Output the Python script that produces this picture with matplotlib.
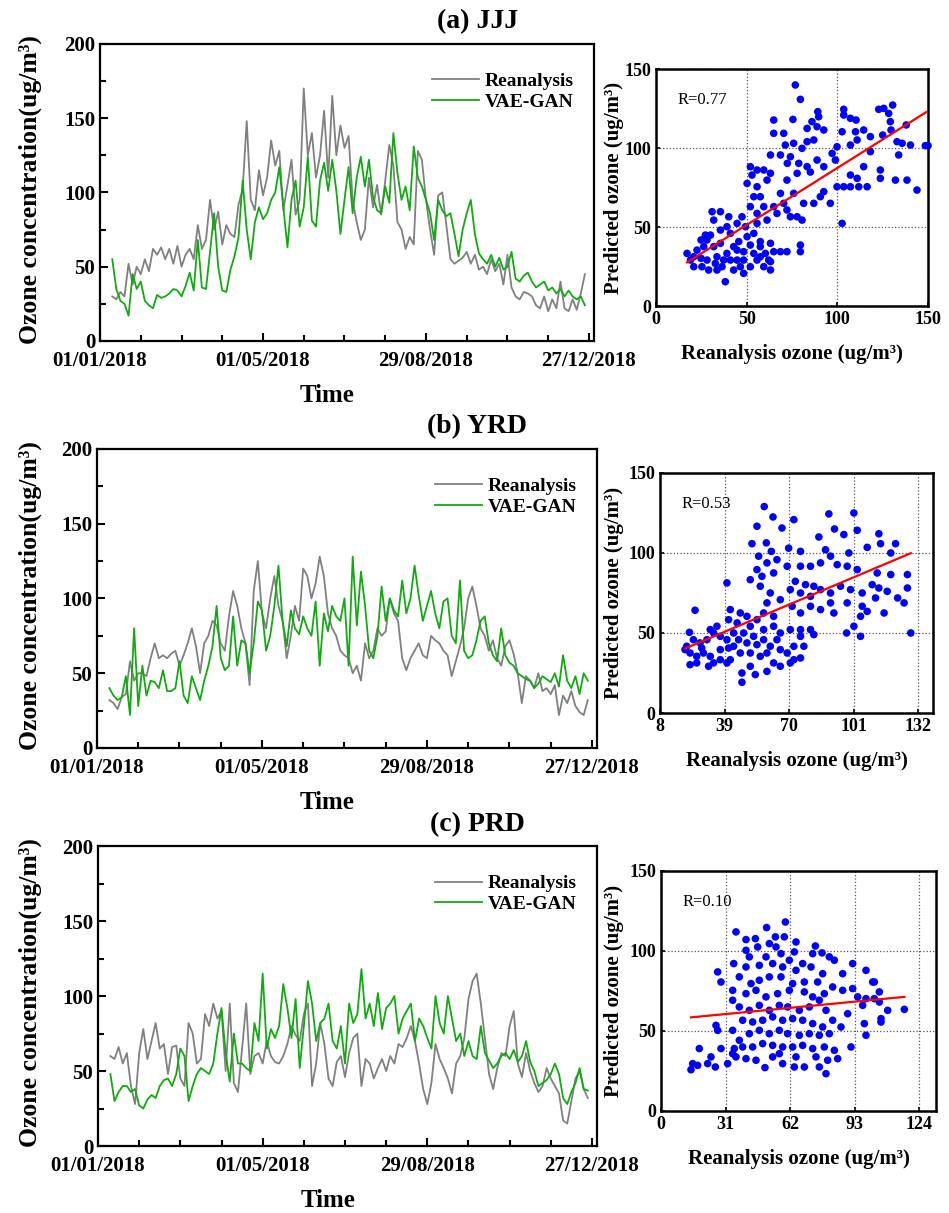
import numpy as np
import matplotlib
matplotlib.use("Agg")
import matplotlib.pyplot as plt
from matplotlib.ticker import MultipleLocator

plt.rcParams['font.family'] = ['Liberation Serif', 'DejaVu Serif']
plt.rcParams['font.weight'] = 'bold'

# ---- time series: day of year (every 3rd day) ----
days = np.arange(9, 360, 3)
date_ticks = [0, 120, 240, 360]
date_labels = ['01/01/2018', '01/05/2018', '29/08/2018', '27/12/2018']

jjj_rea = [30, 28, 33, 30, 52, 38, 50, 45, 55, 47,
           62, 58, 63, 55, 62, 52, 64, 50, 58, 62,
           55, 78, 62, 68, 95, 75, 87, 65, 78, 72,
           70, 92, 102, 148, 95, 88, 115, 98, 110, 135,
           118, 128, 88, 105, 122, 85, 95, 170, 125, 140,
           110, 125, 155, 110, 165, 125, 145, 130, 138, 95,
           80, 68, 75, 110, 90, 105, 85, 108, 132, 118,
           80, 75, 62, 70, 65, 128, 122, 95, 75, 58,
           98, 100, 78, 55, 52, 54, 56, 60, 52, 58,
           48, 50, 45, 55, 47, 52, 38, 58, 36, 30,
           28, 33, 32, 30, 24, 22, 30, 20, 28, 22,
           40, 22, 20, 28, 21, 32, 45]
jjj_vae = [55, 35, 27, 25, 17, 45, 35, 40, 27, 24,
           22, 31, 29, 30, 32, 35, 34, 30, 37, 46,
           34, 68, 36, 35, 60, 86, 50, 34, 33, 48,
           57, 70, 108, 75, 55, 80, 90, 82, 86, 95,
           100, 117, 90, 63, 95, 108, 77, 90, 124, 81,
           77, 108, 120, 101, 122, 101, 72, 95, 117, 86,
           110, 124, 104, 122, 97, 88, 86, 104, 93, 140,
           113, 95, 104, 88, 131, 110, 104, 95, 86, 68,
           95, 88, 84, 86, 72, 57, 75, 86, 95, 72,
           59, 55, 52, 58, 50, 56, 48, 50, 60, 42,
           40, 44, 46, 40, 36, 38, 40, 34, 36, 32,
           35, 30, 34, 30, 28, 30, 24]

yrd_rea = [32, 30, 26, 34, 36, 58, 45, 50, 50, 48,
           60, 70, 60, 62, 60, 63, 65, 55, 62, 70,
           80, 68, 50, 70, 75, 85, 82, 70, 65, 88,
           105, 95, 80, 70, 42, 105, 125, 90, 80, 100,
           115, 95, 85, 60, 75, 95, 85, 120, 115, 100,
           110, 128, 115, 90, 80, 75, 65, 62, 60, 50,
           55, 45, 70, 60, 65, 80, 75, 78, 100, 90,
           85, 60, 52, 60, 65, 70, 62, 60, 75, 72,
           70, 65, 62, 48, 58, 68, 80, 100, 108, 95,
           80, 75, 65, 72, 60, 55, 68, 72, 63, 50,
           30, 48, 45, 40, 50, 38, 40, 36, 42, 22,
           35, 30, 38, 28, 24, 22, 32]
yrd_vae = [40, 35, 32, 34, 48, 22, 80, 28, 55, 35,
           45, 44, 40, 52, 38, 38, 40, 58, 35, 30,
           48, 40, 32, 45, 55, 68, 95, 60, 52, 55,
           88, 55, 72, 70, 50, 70, 98, 92, 65, 75,
           95, 122, 85, 68, 92, 80, 76, 88, 80, 75,
           98, 55, 90, 78, 95, 88, 85, 100, 55, 128,
           82, 118, 95, 65, 60, 75, 108, 85, 100, 92,
           88, 112, 90, 100, 122, 102, 85, 95, 105, 90,
           80, 98, 100, 75, 70, 112, 65, 60, 62, 72,
           85, 88, 70, 62, 58, 80, 62, 57, 55, 50,
           48, 46, 45, 40, 43, 48, 46, 44, 50, 41,
           62, 45, 40, 48, 36, 50, 45]

prd_rea = [60, 58, 66, 55, 62, 40, 28, 62, 78, 58,
           70, 82, 65, 68, 48, 66, 67, 45, 40, 82,
           75, 55, 58, 88, 80, 95, 85, 90, 50, 95,
           42, 36, 65, 95, 48, 60, 62, 55, 70, 60,
           56, 55, 60, 68, 80, 74, 70, 88, 95, 40,
           55, 82, 68, 45, 40, 56, 60, 46, 62, 72,
           75, 40, 58, 55, 45, 52, 58, 50, 60, 55,
           68, 66, 72, 80, 70, 55, 38, 28, 42, 68,
           58, 52, 45, 35, 55, 60, 72, 98, 110, 115,
           95, 72, 48, 38, 52, 62, 60, 80, 90, 55,
           46, 62, 50, 42, 36, 40, 52, 45, 40, 35,
           17, 15, 30, 45, 50, 38, 32]
prd_vae = [48, 30, 36, 40, 40, 36, 38, 27, 25, 31,
           34, 32, 40, 44, 45, 40, 48, 65, 60, 30,
           40, 48, 52, 50, 48, 55, 75, 92, 62, 43,
           75, 55, 55, 52, 50, 82, 70, 115, 65, 78,
           72, 80, 108, 92, 72, 98, 52, 80, 110, 95,
           70, 82, 85, 95, 70, 65, 80, 55, 95, 82,
           88, 118, 85, 95, 80, 102, 78, 92, 95, 100,
           75, 85, 90, 95, 70, 85, 80, 72, 65, 100,
           82, 75, 100, 85, 70, 75, 60, 70, 60, 58,
           80, 62, 57, 52, 55, 60, 62, 58, 64, 56,
           60, 70, 56, 50, 40, 42, 44, 48, 55, 48,
           32, 28, 36, 42, 52, 38, 37]

# ---- scatter: reanalysis vs predicted ----
jjj_sx = [76.8, 79.6, 64.9, 75.5, 89.2, 89.7, 86, 88.8, 103.5, 107.2, 110.3, 103.5, 122.8, 125.6, 130.5,
          128.3, 129.2, 138, 148.5, 125, 129.6, 132.9, 135.7, 140.3, 114.5, 110, 118.2, 110.9, 102.6, 99.8,
          107.2, 97.1, 92.5, 83.3, 80.5, 83.3, 87, 75.9, 74.1, 70.4, 71.3, 64.9, 68.6, 63.1, 72.4,
          78.7, 83.3, 88.8, 92.5, 98.9, 85.1, 77.8, 72.2, 63.1, 59.4, 55.7, 52, 52.9, 50.2, 55.7,
          61.2, 57.5, 53.9, 52, 59.4, 64.9, 70.4, 75.9, 68.6, 72.2, 77.8, 80.5, 74.1, 66.7, 61.2,
          55.7, 81.4, 87, 90.6, 92.5, 96.1, 99.8, 103.5, 107.2, 111.8, 116.4, 110.9, 107.2, 114.5, 123.7,
          132, 123.7, 102.6, 138.4, 143.9, 133.8, 118.2, 150,
          17.1, 19, 22.6, 24.8, 26.3, 28.1, 30, 31.8, 33.6, 35.5, 37.3, 39.1, 33.6, 38.2, 29,
          25.3, 30.9, 35.5, 40.1, 31.8, 41, 42.8, 44.7, 46.5, 47.4, 44.7, 49.3, 50.2, 52, 53.9,
          55.7, 57.5, 60.3, 62.1, 63.1, 59.4, 52, 48.3, 44.7, 48.3, 41, 42.8, 20.8, 28.1, 32.7,
          36.4, 20.8, 24.8, 27.2, 35.5, 39.1, 45.6, 57.5, 64.9, 63.1, 57.5, 53.9, 55.7, 72.2, 79.6,
          79.6, 68.6, 48.3, 63.1]
jjj_sy = [139.9, 130.8, 117.7, 118.1, 123, 119.8, 116.7, 113.5, 124.5, 118.8, 117.7, 120.9, 124.5, 125.1, 127.2,
          121.9, 116.7, 114.6, 101.5, 108.2, 111.4, 104, 103, 101.9, 111.4, 110.3, 107.2, 105.1, 110.3, 100.8,
          101.9, 96.6, 111.4, 112.4, 99.8, 104, 105.1, 103, 94.5, 109.3, 101.9, 109.3, 95.6, 95.6, 90.3,
          90.3, 88.2, 92.4, 88.2, 92.4, 84.8, 84, 79.7, 84, 86.1, 86.1, 88.2, 82.9, 77.6, 75.5,
          79.7, 69.2, 69.2, 62.9, 62.9, 62.9, 65, 71.3, 71.3, 60.8, 56.5, 54.4, 56.5, 58.6, 54.4,
          58.6, 65, 65, 69.2, 72.4, 65, 75.5, 75.5, 75.5, 75.5, 75.5, 80.8, 82.9, 88.2, 86.1,
          79.7, 80.8, 52.3, 79.7, 73.4, 95.6, 97.7, 101.5,
          33.3, 29.1, 35.4, 30.2, 37.6, 41.8, 44.9, 37.6, 31.2, 39.7, 29.1, 33.3, 22.8, 15.4, 22.8,
          24.9, 59.7, 59.7, 56.5, 54.4, 46, 37.6, 29.1, 24.9, 56.5, 52.3, 50.2, 43.9, 38.6, 33.3,
          29.1, 37.6, 33.3, 29.1, 22.8, 24.9, 24.9, 29.1, 35.4, 34.4, 29.1, 22.8, 24.9, 29.1, 27,
          24.9, 31.2, 41.8, 44.9, 48.1, 50.2, 40.8, 31.2, 34.4, 39.7, 40.8, 46, 52.3, 34.4, 34.4,
          38.6, 34.4, 20.7, 28.1]
jjj_fit = (0.721, 15.3)
jjj_r = 'R=0.77'

yrd_sx = [58, 62.2, 101, 89, 72.2, 66.5, 54.5, 91.7, 102.6, 84.2, 113, 121, 113.8, 107.4, 96.2,
          52.1, 59, 61.4, 69.7, 75.4, 87.4, 89.8, 98.6, 118.7, 55.3, 64.1, 59.3, 54.5, 51.3, 56.9,
          62.5, 69, 75.4, 80.2, 85, 93, 97.8, 102.6, 112.2, 118.7, 126.7, 40.1, 72.9, 77.8, 81.8,
          70.5, 75.4, 80.2, 85, 89.8, 94.6, 99.4, 105, 109.8, 113, 117, 126.7, 122, 111.4, 105,
          107.4, 115.5, 125.1, 97.8, 91.4, 89.8, 85, 80.2, 75.4, 71.4, 65.7, 60.9, 56.1, 59.3, 62.5,
          57.7, 54.5, 49.7, 46.5, 41.7, 40.9, 45, 51.3, 48.1, 52.9, 57.7, 62.5, 65.7, 70.5, 75.4,
          80.2, 75.4, 81.8, 72.2, 77, 72.2, 75.4, 97.5, 104.2, 128.3, 104.2, 101, 64.1, 60.9, 65.7,
          69, 59.3, 56.1, 62.5, 65.7, 59.3, 53.7, 47.3, 47.3, 51.3, 46.5, 43.3, 40.1, 36.9, 33.7,
          32.1, 35.3, 30.5, 27.2, 24, 20.8, 22.4, 25.6, 28.8, 32.1, 33.7, 31.3, 25.6, 22.4, 22.1,
          24.8, 36.9, 40.9, 40.1, 41.7, 36.9, 20, 28, 43.3, 45.7, 49.7, 54.5, 57.7, 51.3, 70.5]
yrd_sy = [129, 122.5, 125, 124.4, 120.8, 115.6, 116.7, 115, 114.2, 110, 112, 105.8, 105.8, 103.5, 111.5,
          105.8, 106.3, 101, 103, 101, 102, 98, 100, 100, 98, 95.8, 93.8, 89.6, 83.3, 85.4,
          87.5, 91.7, 91.7, 91.7, 93.8, 92.7, 91.7, 89.6, 87.5, 86.5, 86.5, 81.3, 82.3, 80.2, 79.2,
          77.1, 75, 72.9, 77.1, 75, 79.2, 77.1, 75, 80.2, 78.1, 76, 78.1, 71.9, 71.9, 66.7,
          63.5, 62.5, 68.8, 68.8, 62.5, 68.8, 64.6, 66.7, 62.5, 66.7, 70.8, 75, 79.2, 68.8, 60.4,
          62.5, 58.3, 60.4, 62.5, 64.6, 58.3, 56.3, 54.2, 50, 47.9, 52.1, 54.2, 50, 52.1, 52.1,
          52.1, 47.9, 49, 41.7, 41.7, 33.3, 34.4, 50, 47.9, 50, 60.4, 54.2, 45.8, 41.7, 39.6,
          37.5, 37.5, 35.4, 31.3, 29.2, 26, 24, 25, 19.2, 37.5, 37.5, 41.7, 45.8, 47.9, 50,
          52.1, 54.2, 45.8, 43.8, 45.8, 41.7, 37.5, 35.4, 37.5, 35.4, 31.3, 29.2, 31.3, 30.2, 50.4,
          64.2, 39.6, 40.6, 31.3, 33.3, 33.3, 39.6, 40.6, 50, 45.8, 43.8, 42.7, 45.8, 29.2, 31.3]
yrd_fit = (0.55, 29.3)
yrd_r = 'R=0.53'

prd_sx = [59.7, 50.7, 36, 40.8, 45.3, 54.9, 59.2, 46.4, 40.8, 52, 55.2, 57.6, 64.8, 64, 74.1,
          77.3, 72.8, 80.8, 83.2, 92, 98.4, 102.4, 87.2, 77.6, 68, 61.6, 50.4, 42.4, 34.9, 40.8,
          47.2, 53.6, 58.4, 64.8, 72, 75.2, 68.8, 63.2, 57.6, 52, 47.2, 43.2, 37.6, 28.8, 27.2,
          34.4, 40.8, 45.6, 50.4, 56, 61.6, 68.8, 72.8, 78.4, 82.4, 87.2, 92, 101.6, 94.4, 96.8,
          98.4, 104.8, 108.8, 105.6, 97.6, 98.4, 91.2, 86.4, 82.4, 79.2, 76, 71.2, 66.4, 60.8, 56.8,
          52, 47.2, 42.4, 37.6, 34.4, 39.2, 44, 48.8, 53.6, 58.4, 63.2, 68, 72.8, 77.6, 80.8,
          76, 71.2, 66.4, 60.8, 56.8, 52, 47.2, 42.4, 37.6, 34.4, 27.2, 26.4, 28.8, 35.2, 39.2,
          44, 48.8, 53.6, 58.4, 63.2, 68, 72.8, 78.4, 83.2, 80, 76, 79.2, 68.8, 64, 58.4,
          53.6, 49.9, 45.6, 40.8, 36, 32, 34.4, 14.4, 15.2, 17.6, 18.4, 22.4, 24, 26.1, 84.8,
          74.4, 64.8, 56.8, 116.8, 105.6, 102.4, 104.8, 89.6]
prd_sy = [118.1, 114.6, 111.9, 107.1, 107.7, 108.8, 108.8, 102.5, 100.4, 104.6, 102.5, 98.3, 105.6, 99.4, 103.1,
          98.8, 98.3, 96.3, 94.2, 92.1, 87.9, 80.6, 85.8, 85.8, 92.1, 94.2, 96.3, 96.3, 92.1, 90,
          91, 92.1, 90, 87.9, 90, 80.6, 80.6, 79.6, 83.8, 83.8, 81.7, 79.6, 83.8, 80.6, 86.9,
          75.4, 73.3, 75.4, 71.3, 73.3, 75.4, 74.4, 71.3, 73.3, 77.5, 75.4, 76.5, 80.6, 71.3, 66,
          70.2, 68.1, 62.9, 55.6, 54.6, 47.3, 40, 52.5, 56.7, 62.9, 69.2, 65, 62.9, 65, 66,
          62.9, 66, 62.9, 65, 69.2, 56.7, 55.6, 56.7, 58.8, 56.7, 57.7, 56.7, 54.6, 52.5, 48.3,
          47.3, 48.3, 47.3, 48.3, 50.4, 48.3, 50.4, 48.3, 44.2, 50.4, 50.4, 53.5, 39, 39, 40,
          40, 42.1, 41, 40, 40, 41, 39, 40, 37.9, 31.7, 27.5, 23.3, 27.5, 27.5, 29.6,
          33.8, 27.1, 31.7, 32.7, 33.8, 29.6, 35.8, 25.8, 29.6, 28.5, 39, 29.6, 33.8, 27.5, 32.7,
          33.8, 33.8, 35.8, 63.5, 57.7, 70.2, 74.4, 60.8]
prd_fit = (0.125, 56.7)
prd_r = 'R=0.10'

rows = [
    ('(a) JJJ', jjj_rea, jjj_vae, jjj_sx, jjj_sy, jjj_fit, jjj_r,
     [0, 50, 100, 150], (0, 150)),
    ('(b) YRD', yrd_rea, yrd_vae, yrd_sx, yrd_sy, yrd_fit, yrd_r,
     [8, 39, 70, 101, 132], (8, 139)),
    ('(c) PRD', prd_rea, prd_vae, prd_sx, prd_sy, prd_fit, prd_r,
     [0, 31, 62, 93, 124], (0, 132)),
]

# axes boxes in figure fractions
ts_boxes = [[0.1054, 0.7189, 0.5205, 0.2449],
            [0.1022, 0.3834, 0.5269, 0.2465],
            [0.1033, 0.0552, 0.5258, 0.2473]]
sc_boxes = [[0.6913, 0.7477, 0.2866, 0.1954],
            [0.6955, 0.4122, 0.2877, 0.1979],
            [0.6965, 0.0841, 0.2898, 0.1979]]
title_y = [0.982, 0.648, 0.320]
W, H = 949, 1213

fig = plt.figure(figsize=(9.49, 12.13), dpi=100)

for i, (title, rea, vae, sx, sy, fit, rtxt, sc_ticks, sc_xlim) in enumerate(rows):
    fig.text(0.503, title_y[i], title, ha='center', va='center', fontsize=20, fontweight='bold')

    # time series
    box = ts_boxes[i]
    ax = fig.add_axes(box)
    ax.plot(days, rea, color='#808080', lw=1.3, label='Reanalysis')
    ax.plot(days, vae, color='#11aa11', lw=1.3, label='VAE-GAN')
    ax.set_xlim(0, 363.7)
    ax.set_ylim(0, 200)
    ax.set_xticks(date_ticks)
    ax.set_xticklabels(date_labels)
    ax.xaxis.set_minor_locator(MultipleLocator(30))
    ax.yaxis.set_major_locator(MultipleLocator(50))
    ax.yaxis.set_minor_locator(MultipleLocator(25))
    ax.tick_params(which='both', direction='in', top=False, right=False, labelsize=15, width=1.5)
    ax.tick_params(which='major', length=6)
    ax.tick_params(which='minor', length=4)
    ax.tick_params(axis='x', pad=7.5)
    for s in ax.spines.values():
        s.set_linewidth(1.6)
    ax.set_xlabel('Time', fontsize=18, fontweight='bold', va='top')
    ax.xaxis.set_label_coords(0.46, -43 / (box[3] * H))
    ax.set_ylabel('Ozone concentration(ug/m³)', fontsize=18.5, fontweight='bold')
    ax.yaxis.set_label_coords((42 - box[0] * W) / (box[2] * W), 0.51)
    ax.legend(loc='upper right', bbox_to_anchor=(0.975, 0.93), frameon=False, fontsize=14,
              handlelength=2.4, handletextpad=0.3, labelspacing=0.15, borderaxespad=0)

    # scatter
    cbox = sc_boxes[i]
    bx = fig.add_axes(cbox)
    bx.scatter(sx, sy, s=30, color='#0000ff', edgecolors='none', zorder=3, clip_on=False)
    xl = np.array([min(sx), max(sx)])
    bx.plot(xl, fit[0] * xl + fit[1], color='#ff0000', lw=1.6, zorder=4)
    bx.set_xlim(*sc_xlim)
    bx.set_ylim(0, 150)
    bx.set_xticks(sc_ticks)
    bx.set_yticks([0, 50, 100, 150])
    bx.grid(True, linestyle=':', color='#555555', lw=0.9)
    bx.set_axisbelow(True)
    bx.tick_params(direction='in', length=3, labelsize=13, width=1.2)
    for s in bx.spines.values():
        s.set_linewidth(1.8)
    bx.text(0.08, 0.87, rtxt, transform=bx.transAxes, ha='left', va='center', fontsize=12,
            fontweight='normal')
    bx.set_xlabel('Reanalysis ozone (ug/m³)', fontsize=15, fontweight='bold', va='top')
    bx.xaxis.set_label_coords(0.5, -38 / (cbox[3] * H))
    bx.set_ylabel('Predicted ozone (ug/m³)', fontsize=15, fontweight='bold')
    bx.yaxis.set_label_coords((624 - cbox[0] * W) / (cbox[2] * W), 0.5)

fig.savefig('out.png', dpi=100)
